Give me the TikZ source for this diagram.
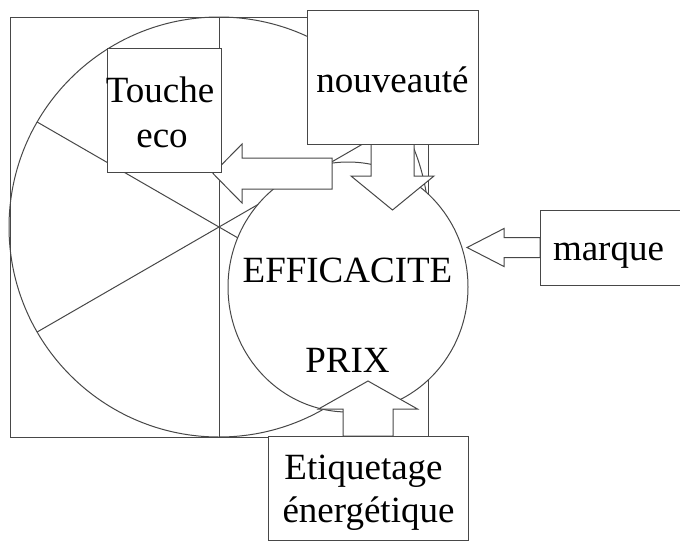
\documentclass[tikz,border=0pt]{standalone}
\usepackage{fontspec}
\setmainfont{Liberation Serif}
\usetikzlibrary{calc,shapes.geometric}

% drawing layers: wheel and bubble at the back, arrows in between, boxes on top
\pgfdeclarelayer{back}
\pgfdeclarelayer{mid}
\pgfsetlayers{back,mid,main}

% block arrow: #1 tail, #2 tip, #3 half shaft width, #4 half head width, #5 head length
\newcommand\blockarrow[5]{%
  \coordinate (ba-hb) at ($(#2)!#5!(#1)$);
  \draw[arrowbody]
    ($(#1)!#3!90:(#2)$) --
    ($(ba-hb)!#3!-90:(#1)$) --
    ($(ba-hb)!#4!-90:(#1)$) --
    (#2) --
    ($(ba-hb)!#4!90:(#1)$) --
    ($(ba-hb)!#3!90:(#1)$) --
    ($(#1)!#3!-90:(#2)$) -- cycle;}

\begin{document}
\begin{tikzpicture}[x=1pt,y=-1pt,
  outline/.style={draw=black!72,line width=1pt},
  box/.style={draw=black!72,line width=1pt,fill=white,rectangle,inner sep=0pt,outer sep=0pt},
  arrowbody/.style={draw=black!72,line width=1pt,fill=white,line join=miter},
  lbl/.style={font=\fontsize{37}{44}\selectfont,anchor=base,inner sep=0pt,text=black}]

\useasboundingbox (0,0) rectangle (680,542);

% boxes
\node[box,minimum width=114pt,minimum height=124pt] (touche) at (164,110) {};
\node[box,minimum width=171pt,minimum height=134pt] (nouv) at (392.5,77) {};
\node[box,minimum width=160pt,minimum height=75pt] (mark) at (620,247.5) {};
\node[box,minimum width=200pt,minimum height=104pt] (etiq) at (368,488) {};

% square with the inscribed wheel cut into six sectors, and the central bubble
\begin{pgfonlayer}{back}
  \coordinate (O) at (219,227);
  \draw[outline] (10,17) rectangle (428,437);
  \draw[outline] (O) circle[radius=210pt];
  \draw[outline] (219,17) -- (219,437);
  \draw[outline] ($(O)+(150:210pt)$) -- ($(O)+(-30:210pt)$);
  \draw[outline] ($(O)+(210:210pt)$) -- ($(O)+(30:210pt)$);
  \node[ellipse,outline,fill=white,minimum width=240pt,minimum height=250pt,inner sep=0pt] (eff) at (348,287) {};
\end{pgfonlayer}

% arrow ends
\coordinate (tailT) at (332,173.5);
\coordinate (tipT) at (213,173.5);
\coordinate (tipN) at (392.5,210);
\coordinate (tipM) at (467,247.5);
\coordinate (tipE) at (368,381);

% block arrows
\begin{pgfonlayer}{mid}
  \blockarrow{tailT}{tipT}{15.5pt}{29.5pt}{29pt}
  \blockarrow{nouv.south}{tipN}{21.5pt}{41.5pt}{34pt}
  \blockarrow{mark.west}{tipM}{10pt}{19pt}{37pt}
  \blockarrow{etiq.north}{tipE}{25pt}{49.5pt}{28pt}
\end{pgfonlayer}

% texts
\node[lbl] (tTouche) at (160,102) {Touche};
\node[lbl] (tEco) at (162,147) {eco};
\node[lbl] (tNouv) at (392.5,92) {nouveauté};
\node[lbl] (tEff) at (347.5,282) {EFFICACITE};
\node[lbl] (tPrix) at (347.5,372) {PRIX};
\node[lbl] (tMarque) at (608.5,260) {marque};
\node[lbl] (tEtiq) at (363.5,479) {Etiquetage};
\node[lbl] (tEner) at (368.5,522) {énergétique};
\end{tikzpicture}
\end{document}
